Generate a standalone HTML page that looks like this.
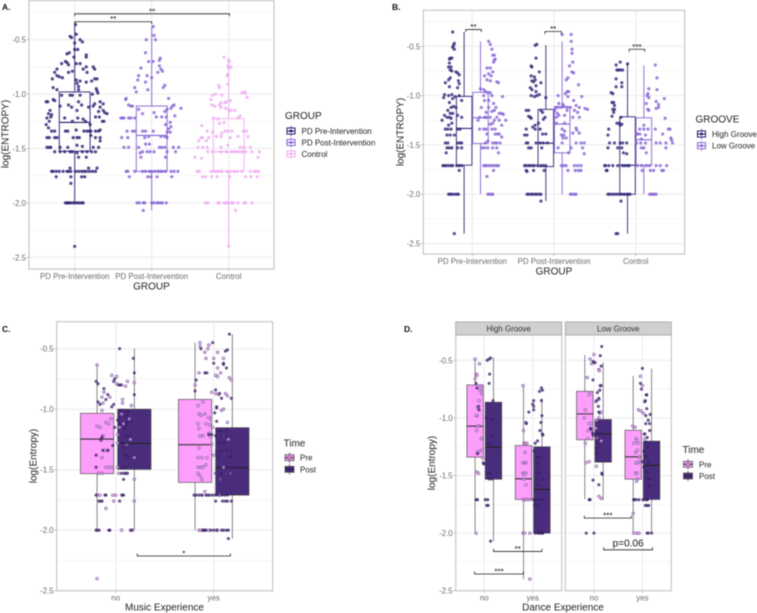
<!DOCTYPE html>
<html lang="en">
<head>
<meta charset="utf-8">
<title>Entropy box plots</title>
<style>
html,body{margin:0;padding:0;background:#fff;}
svg{display:block;font-family:"Liberation Sans",sans-serif;filter:blur(.45px);}
.tick{font-size:7.9px;fill:#6a6a6a;}
.title{font-size:10px;fill:#222;}
.leg{font-size:8px;fill:#222;}
.pl{font-size:8.5px;font-weight:bold;fill:#111;}
.sig{font-size:8px;fill:#111;}
</style>
</head>
<body>
<svg id="fig" xmlns="http://www.w3.org/2000/svg" width="757" height="613" viewBox="0 0 757 613">
<rect width="757" height="613" fill="#fff"/>
<g id="panels"></g>

<text class="pl" x="2" y="10">A.</text>
<text class="pl" x="392" y="10">B.</text>
<text class="pl" x="2" y="332">C.</text>
<text class="pl" x="404" y="332">D.</text>

<text class="title" x="151.5" y="289.5" text-anchor="middle">GROUP</text>
<text class="title" transform="translate(8.5,134) rotate(-90)" text-anchor="middle">log(ENTROPY)</text>
<text class="title" x="554" y="274.5" text-anchor="middle">GROUP</text>
<text class="title" transform="translate(403.5,132) rotate(-90)" text-anchor="middle">log(ENTROPY)</text>
<text class="title" x="164.5" y="610.5" text-anchor="middle">Music Experience</text>
<text class="title" transform="translate(36.5,456) rotate(-90)" text-anchor="middle">log(Entropy)</text>
<text class="title" x="563" y="610.5" text-anchor="middle">Dance Experience</text>
<text class="title" transform="translate(435,463) rotate(-90)" text-anchor="middle">log(Entropy)</text>

<g>
<text class="title" x="285" y="119">GROUP</text>
<g><line x1="291" x2="291" y1="126" y2="136" stroke="#241b70" stroke-width=".8"/><rect x="287" y="128" width="8" height="6" fill="#fff" stroke="#241b70"/><line x1="287" x2="295" y1="131" y2="131" stroke="#241b70"/><circle cx="291" cy="131" r="1.5" fill="#241b70"/><text class="leg" x="301.5" y="134">PD Pre-Intervention</text></g>
<g><line x1="291" x2="291" y1="137.5" y2="147.5" stroke="#8561d4" stroke-width=".8"/><rect x="287" y="139.5" width="8" height="6" fill="#fff" stroke="#8561d4"/><line x1="287" x2="295" y1="142.5" y2="142.5" stroke="#8561d4"/><circle cx="291" cy="142.5" r="1.5" fill="#8561d4"/><text class="leg" x="301.5" y="145.5">PD Post-Intervention</text></g>
<g><line x1="291" x2="291" y1="149" y2="159" stroke="#eeaaf2" stroke-width=".8"/><rect x="287" y="151" width="8" height="6" fill="#fff" stroke="#eeaaf2"/><line x1="287" x2="295" y1="154" y2="154" stroke="#eeaaf2"/><circle cx="291" cy="154" r="1.5" fill="#eeaaf2"/><text class="leg" x="301.5" y="157">Control</text></g>
</g>

<g>
<text class="title" x="695.5" y="122.5">GROOVE</text>
<g><line x1="701.5" x2="701.5" y1="129" y2="139" stroke="#241b70" stroke-width=".8"/><rect x="697.5" y="131" width="8" height="6" fill="#fff" stroke="#241b70"/><line x1="697.5" x2="705.5" y1="134" y2="134" stroke="#241b70"/><circle cx="701.5" cy="134" r="1.5" fill="#241b70"/><text class="leg" x="712" y="137">High Groove</text></g>
<g><line x1="701.5" x2="701.5" y1="140.7" y2="150.7" stroke="#8561d4" stroke-width=".8"/><rect x="697.5" y="142.7" width="8" height="6" fill="#fff" stroke="#8561d4"/><line x1="697.5" x2="705.5" y1="145.7" y2="145.7" stroke="#8561d4"/><circle cx="701.5" cy="145.7" r="1.5" fill="#8561d4"/><text class="leg" x="712" y="148.7">Low Groove</text></g>
</g>

<g>
<text class="title" x="283.5" y="446.5">Time</text>
<g><line x1="289.5" x2="289.5" y1="452.5" y2="463" stroke="#444" stroke-width=".7"/><rect x="285" y="454.7" width="9" height="6" fill="#fd9dfc" stroke="#444" stroke-width=".7"/><line x1="285" x2="294" y1="457.7" y2="457.7" stroke="#333"/><circle cx="289.5" cy="457.7" r="1.5" fill="#fcc" stroke="#4a2c7c" stroke-width=".6"/><text class="leg" x="300" y="460.7">Pre</text></g>
<g><line x1="289.5" x2="289.5" y1="464" y2="474.5" stroke="#444" stroke-width=".7"/><rect x="285" y="466.3" width="9" height="6" fill="#4a2c7c" stroke="#444" stroke-width=".7"/><line x1="285" x2="294" y1="469.3" y2="469.3" stroke="#222"/><circle cx="289.5" cy="469.3" r="1.5" fill="#3a2268"/><text class="leg" x="300" y="472.3">Post</text></g>
</g>

<g>
<text class="title" x="682.5" y="453">Time</text>
<g><line x1="688" x2="688" y1="459" y2="469.5" stroke="#444" stroke-width=".7"/><rect x="683.5" y="461.3" width="9" height="6" fill="#fd9dfc" stroke="#444" stroke-width=".7"/><line x1="683.5" x2="692.5" y1="464.3" y2="464.3" stroke="#333"/><circle cx="688" cy="464.3" r="1.5" fill="#fcc" stroke="#4a2c7c" stroke-width=".6"/><text class="leg" x="699" y="467.3">Pre</text></g>
<g><line x1="688" x2="688" y1="470.7" y2="481.2" stroke="#444" stroke-width=".7"/><rect x="683.5" y="473" width="9" height="6" fill="#4a2c7c" stroke="#444" stroke-width=".7"/><line x1="683.5" x2="692.5" y1="476" y2="476" stroke="#222"/><circle cx="688" cy="476" r="1.5" fill="#3a2268"/><text class="leg" x="699" y="479">Post</text></g>
</g>
</svg>

<script>
/* ---------- shared tick values ---------- */
const yMajorTicks = [-0.5,-1,-1.5,-2,-2.5];
const yMinorTicks = [-0.25,-0.75,-1.25,-1.75,-2.25];
const yTickLabels = ["-0.5","-1.0","-1.5","-2.0","-2.5"];
const groupCategories = ["PD Pre-Intervention","PD Post-Intervention","Control"];
const yesNoCategories = ["no","yes"];

/* ---------- box stats: [upper whisker, q3, median, q1, lower whisker] ---------- */
const aPreBox = [-.36,-.98,-1.26,-1.525,-2.0];
const aPostBox = [-.375,-1.11,-1.38,-1.71,-2.07];
const aControlBox = [-.66,-1.225,-1.53,-1.71,-2.4];
const bPreHighBox = [-.355,-1.008,-1.333,-1.706,-2.4];
const bPreLowBox = [-.45,-.967,-1.225,-1.485,-2.0];
const bPostHighBox = [-.487,-1.14,-1.482,-1.72,-2.07];
const bPostLowBox = [-.453,-1.113,-1.289,-1.58,-2.0];
const bCtrlHighBox = [-.66,-1.215,-1.706,-2.0,-2.4];
const bCtrlLowBox = [-.693,-1.225,-1.448,-1.706,-2.0];
const cNoPreBox = [-.635,-1.034,-1.247,-1.533,-2.0];
const cNoPostBox = [-.5,-1.0,-1.282,-1.497,-2.0];
const cYesPreBox = [-.45,-.919,-1.293,-1.605,-2.0];
const cYesPostBox = [-.38,-1.153,-1.483,-1.71,-2.07];
const dHighNoPreBox = [-.49,-.714,-1.072,-1.341,-2.0];
const dHighNoPostBox = [-.474,-.864,-1.254,-1.532,-2.07];
const dHighYesPreBox = [-.72,-1.24,-1.529,-1.708,-2.4];
const dHighYesPostBox = [-.83,-1.251,-1.621,-2.0,-2.0];
const dLowNoPreBox = [-.454,-.769,-.965,-1.19,-1.705];
const dLowNoPostBox = [-.517,-1.014,-1.139,-1.384,-1.71];
const dLowYesPreBox = [-.636,-1.107,-1.338,-1.532,-2.0];
const dLowYesPostBox = [-.572,-1.202,-1.413,-1.708,-2.0];

/* ---------- points: [horizontal jitter in category units, value] ---------- */
const aPrePoints = [[.01,-.36],[.02,-.45],[-.06,-.47],[-.04,-.48],[.07,-.5],[.1,-.52],[0,-.53],[0,-.59],[.04,-.59],[-.07,-.62],[-.1,-.63],[.15,-.64],[.15,-.66],[-.01,-.66],[-.12,-.7],[-.17,-.72],[-.1,-.71],[-.08,-.73],[.02,-.72],[.07,-.72],[.24,-.75],[.26,-.77],[.15,-.75],[.11,-.77],[-.23,-.77],[-.26,-.8],[-.08,-.8],[-.03,-.79],[.16,-.8],[-.23,-.83],[-.2,-.84],[-.16,-.85],[-.29,-.86],[.26,-.86],[.29,-.86],[.02,-.87],[.07,-.88],[.22,-.88],[.15,-.89],[.03,-.9],[.05,-.93],[-.28,-.94],[.28,-.95],[-.23,-.96],[.05,-.96],[.29,-.97],[.3,-.99],[.23,-1],[-.17,-1.01],[-.06,-1.01],[-.03,-1.01],[.07,-1.01],[-.28,-1.05],[-.26,-1.06],[-.35,-1.07],[-.37,-1.07],[.05,-1.07],[.33,-1.07],[.26,-1.09],[.37,-1.09],[-.19,-1.11],[-.08,-1.1],[-.04,-1.12],[.09,-1.1],[.18,-1.12],[.24,-1.11],[.33,-1.12],[-.32,-1.15],[.03,-1.15],[.37,-1.15],[-.34,-1.18],[-.3,-1.19],[.42,-1.18],[.31,-1.16],[.39,-1.17],[-.36,-1.22],[-.31,-1.21],[-.13,-1.22],[.04,-1.22],[.11,-1.23],[.27,-1.21],[.32,-1.21],[.38,-1.25],[-.33,-1.25],[-.37,-1.28],[-.34,-1.31],[-.03,-1.25],[.14,-1.25],[.2,-1.28],[.36,-1.25],[-.3,-1.34],[-.26,-1.34],[-.12,-1.34],[-.09,-1.34],[.02,-1.33],[.12,-1.34],[.16,-1.34],[.19,-1.34],[.21,-1.34],[.27,-1.34],[.31,-1.34],[.33,-1.33],[.21,-1.38],[-.36,-1.4],[-.33,-1.4],[-.26,-1.4],[-.23,-1.4],[-.02,-1.4],[.03,-1.4],[.06,-1.4],[.27,-1.4],[.33,-1.4],[.33,-1.43],[-.36,-1.49],[-.33,-1.49],[-.31,-1.49],[-.19,-1.49],[-.09,-1.49],[.03,-1.47],[.1,-1.48],[.24,-1.49],[.31,-1.49],[-.26,-1.53],[-.19,-1.53],[-.13,-1.53],[-.06,-1.53],[-.03,-1.53],[.03,-1.54],[.1,-1.53],[.16,-1.53],[.22,-1.53],[.27,-1.53],[.05,-1.58],[.15,-1.58],[-.06,-1.68],[.18,-1.68],[.29,-1.68],[-.3,-1.71],[-.28,-1.71],[-.24,-1.71],[-.2,-1.71],[-.15,-1.71],[-.1,-1.71],[-.08,-1.71],[-.05,-1.71],[.01,-1.71],[.05,-1.71],[.09,-1.71],[.12,-1.71],[.15,-1.71],[.19,-1.71],[.23,-1.71],[.27,-1.71],[-.24,-1.76],[-.05,-1.76],[.09,-1.76],[.13,-1.76],[-.05,-1.82],[-.12,-2],[-.1,-2],[-.08,-2],[-.06,-2],[-.03,-2],[0,-2],[.03,-2],[.06,-2],[.09,-2],[.11,-2],[0,-2.4]];
const aPostPoints = [[.02,-.38],[-.07,-.5],[.03,-.46],[.05,-.5],[-.08,-.62],[-.04,-.7],[.02,-.7],[.11,-.67],[.1,-.69],[.1,-.74],[-.14,-.76],[.12,-.77],[.14,-.79],[.08,-.8],[-.17,-.83],[-.06,-.83],[.0,-.85],[-.18,-.87],[-.08,-.89],[-.22,-.94],[-.2,-.98],[.17,-.92],[.15,-.94],[-.05,-.96],[-.33,-1.04],[.22,-1.04],[-.34,-1.05],[-.3,-1.1],[-.27,-1.11],[-.25,-1.11],[-.17,-1.14],[.2,-1.14],[.27,-1.11],[.29,-1.1],[.25,-1.13],[.38,-1.13],[-.12,-1.18],[.03,-1.17],[.17,-1.16],[-.4,-1.22],[-.38,-1.22],[-.36,-1.22],[-.3,-1.22],[-.27,-1.22],[-.22,-1.22],[.06,-1.21],[.13,-1.21],[.19,-1.21],[.3,-1.2],[.24,-1.26],[.18,-1.28],[.25,-1.3],[.22,-1.32],[-.32,-1.34],[-.25,-1.34],[-.22,-1.34],[-.12,-1.34],[-.08,-1.34],[.02,-1.34],[.2,-1.35],[.24,-1.35],[-.39,-1.4],[-.31,-1.4],[-.09,-1.4],[-.04,-1.39],[.12,-1.39],[.17,-1.39],[.2,-1.4],[-.36,-1.49],[-.3,-1.49],[-.17,-1.49],[-.08,-1.46],[-.03,-1.46],[.1,-1.49],[.13,-1.49],[.17,-1.49],[.28,-1.49],[.35,-1.49],[-.15,-1.54],[-.12,-1.53],[-.06,-1.53],[-.02,-1.53],[.03,-1.53],[.2,-1.53],[.31,-1.53],[-.14,-1.58],[.18,-1.58],[-.33,-1.71],[-.31,-1.71],[-.22,-1.71],[-.12,-1.71],[-.08,-1.71],[-.03,-1.71],[0,-1.71],[.04,-1.71],[.08,-1.71],[.11,-1.71],[.14,-1.71],[.18,-1.71],[.25,-1.71],[.29,-1.71],[.34,-1.71],[-.29,-1.76],[-.05,-1.76],[-.01,-1.76],[.07,-1.76],[.26,-1.76],[-.19,-2],[-.16,-2],[-.11,-2],[-.09,-2],[0,-2],[.03,-2],[.07,-2],[.09,-2],[.12,-2],[.14,-2],[.19,-2],[-.11,-2.07]];
const aControlPoints = [[-.06,-.66],[.0,-.69],[.01,-.7],[-.01,-.74],[.03,-.75],[.0,-.76],[-.02,-.83],[-.01,-.82],[-.13,-.92],[-.12,-.94],[-.01,-.91],[.2,-.98],[.17,-.99],[.22,-.99],[-.17,-1],[-.21,-1.01],[-.09,-1.01],[.24,-1.03],[-.23,-1.05],[-.22,-1.1],[-.1,-1.08],[-.05,-1.08],[-.03,-1.07],[.02,-1.06],[-.18,-1.11],[-.12,-1.1],[-.1,-1.12],[-.04,-1.13],[0,-1.15],[.03,-1.15],[.08,-1.15],[-.2,-1.22],[-.14,-1.23],[.12,-1.22],[.15,-1.2],[-.35,-1.29],[-.12,-1.27],[-.06,-1.26],[-.28,-1.34],[-.21,-1.35],[-.09,-1.36],[-.05,-1.34],[-.01,-1.34],[.04,-1.34],[.19,-1.34],[.23,-1.34],[.25,-1.39],[-.36,-1.4],[-.34,-1.4],[-.26,-1.4],[-.16,-1.39],[-.1,-1.39],[.12,-1.39],[.02,-1.4],[-.39,-1.43],[-.29,-1.43],[-.4,-1.49],[-.34,-1.49],[-.28,-1.49],[-.1,-1.49],[-.01,-1.47],[.15,-1.49],[.2,-1.49],[.28,-1.49],[-.27,-1.53],[-.21,-1.53],[-.1,-1.53],[-.03,-1.53],[.04,-1.53],[.08,-1.53],[.12,-1.53],[.17,-1.53],[.22,-1.53],[.3,-1.53],[.4,-1.53],[-.44,-1.58],[-.35,-1.59],[.38,-1.58],[-.41,-1.71],[-.38,-1.71],[-.23,-1.71],[-.19,-1.71],[-.16,-1.71],[-.13,-1.71],[-.09,-1.71],[-.02,-1.71],[.02,-1.71],[.07,-1.71],[.11,-1.71],[.17,-1.71],[.28,-1.71],[.33,-1.71],[.36,-1.71],[.39,-1.71],[-.34,-1.76],[-.3,-1.76],[-.22,-1.76],[-.15,-1.76],[.01,-1.76],[.22,-1.76],[.29,-1.76],[.37,-1.76],[-.3,-2],[-.27,-2],[-.14,-2],[-.12,-2],[-.06,-2],[-.03,-2],[0,-2],[.04,-2],[.06,-2],[.12,-2],[.2,-2],[.22,-2],[.3,-2],[.09,-2.07],[.0,-2.4]];

const bPreHighPoints = [[-.24,-.355],[-.22,-.47],[-.23,-.49],[-.24,-.51],[-.22,-.53],[-.27,-.62],[-.28,-.63],[-.25,-.62],[-.28,-.67],[-.29,-.71],[-.26,-.71],[-.27,-.74],[-.25,-.75],[-.2,-.76],[-.18,-.77],[-.16,-.79],[-.29,-.84],[-.33,-.87],[-.27,-.82],[-.17,-.85],[-.16,-.88],[-.18,-.92],[-.28,-.91],[-.34,-.99],[-.29,-1],[-.25,-.99],[-.21,-1.01],[-.16,-1],[-.35,-1.02],[-.24,-1.03],[-.13,-1.05],[-.28,-1.07],[-.23,-1.11],[-.2,-1.12],[-.26,-1.12],[-.3,-1.15],[-.27,-1.18],[-.24,-1.18],[-.34,-1.2],[-.31,-1.22],[-.28,-1.22],[-.26,-1.23],[-.18,-1.2],[-.13,-1.22],[-.37,-1.25],[-.29,-1.3],[-.25,-1.28],[-.33,-1.34],[-.3,-1.34],[-.26,-1.34],[-.18,-1.34],[-.15,-1.34],[-.27,-1.4],[-.31,-1.4],[-.22,-1.4],[-.33,-1.48],[-.3,-1.48],[-.18,-1.48],[-.15,-1.48],[-.13,-1.48],[-.31,-1.53],[-.28,-1.53],[-.25,-1.53],[-.18,-1.53],[-.13,-1.53],[-.32,-1.58],[-.36,-1.71],[-.34,-1.71],[-.32,-1.71],[-.29,-1.71],[-.26,-1.71],[-.24,-1.71],[-.19,-1.71],[-.16,-1.71],[-.13,-1.71],[-.16,-1.76],[-.29,-2],[-.27,-2],[-.25,-2],[-.22,-2],[-.19,-2],[-.17,-2],[-.22,-2.4]];
const bPreLowPoints = [[.2,-.45],[.22,-.48],[.24,-.53],[.25,-.59],[.27,-.59],[.27,-.64],[.28,-.63],[.26,-.66],[.18,-.72],[.22,-.72],[.25,-.76],[.15,-.8],[.2,-.78],[.23,-.8],[.18,-.84],[.22,-.85],[.3,-.86],[.32,-.87],[.1,-.93],[.14,-.94],[.16,-.96],[.19,-.97],[.22,-.97],[.14,-1.0],[.24,-1.0],[.37,-1.01],[.15,-1.05],[.2,-1.05],[.26,-1.08],[.11,-1.12],[.2,-1.12],[.29,-1.12],[.27,-1.15],[.17,-1.17],[.24,-1.16],[.33,-1.18],[.36,-1.18],[.38,-1.19],[.09,-1.22],[.15,-1.22],[.17,-1.22],[.22,-1.22],[.3,-1.22],[.07,-1.25],[.27,-1.25],[.33,-1.25],[.41,-1.25],[.25,-1.28],[.22,-1.29],[.36,-1.3],[.14,-1.34],[.17,-1.34],[.24,-1.34],[.28,-1.34],[.09,-1.34],[.31,-1.39],[.28,-1.39],[.33,-1.39],[.18,-1.39],[.36,-1.42],[.16,-1.48],[.19,-1.46],[.25,-1.48],[.28,-1.48],[.3,-1.48],[.34,-1.48],[.12,-1.53],[.15,-1.53],[.19,-1.53],[.25,-1.53],[.3,-1.53],[.32,-1.58],[.14,-1.71],[.16,-1.71],[.18,-1.71],[.21,-1.71],[.24,-1.71],[.27,-1.71],[.3,-1.71],[.32,-1.71],[.26,-1.76],[.18,-1.82],[.19,-2],[.21,-2],[.24,-2],[.25,-2]];
const bPostHighPoints = [[-.23,-.49],[-.21,-.48],[-.22,-.62],[-.28,-.7],[-.27,-.71],[-.28,-.8],[-.18,-.76],[-.24,-.81],[-.27,-.85],[-.25,-.86],[-.23,-.84],[-.16,-.87],[-.22,-.9],[-.29,-.92],[-.27,-.94],[-.22,-.96],[-.18,-.99],[-.28,-1],[-.24,-1.01],[-.21,-1],[-.1,-1.02],[-.34,-1.15],[-.31,-1.15],[-.16,-1.15],[-.14,-1.17],[-.31,-1.21],[-.29,-1.22],[-.28,-1.23],[-.13,-1.24],[-.11,-1.22],[-.23,-1.3],[-.19,-1.28],[-.26,-1.32],[-.34,-1.34],[-.23,-1.34],[-.17,-1.34],[-.36,-1.4],[-.33,-1.4],[-.1,-1.39],[-.14,-1.39],[-.34,-1.48],[-.32,-1.48],[-.22,-1.48],[-.17,-1.48],[-.13,-1.48],[-.08,-1.48],[-.31,-1.53],[-.28,-1.53],[-.15,-1.53],[-.36,-1.71],[-.34,-1.71],[-.31,-1.71],[-.29,-1.71],[-.26,-1.71],[-.24,-1.71],[-.2,-1.71],[-.16,-1.71],[-.13,-1.71],[-.1,-1.71],[-.34,-1.76],[-.33,-1.77],[-.25,-1.76],[-.12,-1.76],[-.33,-2],[-.31,-2],[-.28,-2],[-.26,-2],[-.23,-2],[-.21,-2],[-.18,-2],[-.16,-2],[-.16,-2.07]];
const bPostLowPoints = [[.1,-.38],[.21,-.38],[.21,-.45],[.22,-.53],[.22,-.57],[.23,-.66],[.19,-.7],[.22,-.76],[.24,-.77],[.17,-.82],[.15,-.84],[.3,-.89],[.16,-.96],[.14,-.98],[.18,-.96],[.05,-1],[.17,-1.01],[.34,-1.01],[.24,-1.05],[.06,-1.08],[.11,-1.09],[.27,-1.1],[.02,-1.12],[.05,-1.12],[.09,-1.12],[.12,-1.11],[.16,-1.12],[.2,-1.12],[.31,-1.12],[.38,-1.13],[.41,-1.14],[.01,-1.15],[.04,-1.18],[.16,-1.15],[.25,-1.15],[.03,-1.22],[.06,-1.2],[.13,-1.2],[.23,-1.22],[.31,-1.22],[.29,-1.17],[.03,-1.28],[.13,-1.28],[.27,-1.33],[.28,-1.35],[.1,-1.34],[.13,-1.36],[.23,-1.38],[.31,-1.38],[.09,-1.4],[.12,-1.4],[.11,-1.43],[.15,-1.43],[.1,-1.48],[.27,-1.48],[.33,-1.48],[.37,-1.48],[.05,-1.53],[.21,-1.53],[.35,-1.53],[.18,-1.58],[.37,-1.59],[.09,-1.71],[.12,-1.71],[.15,-1.71],[.25,-1.71],[.29,-1.71],[.33,-1.71],[.17,-1.76],[.26,-1.76],[.3,-1.76],[.33,-1.76],[.2,-2],[.22,-2],[.25,-2],[.27,-2]];
const bCtrlHighPoints = [[-.1,-.68],[-.19,-.66],[-.24,-.69],[-.23,-.74],[-.21,-.74],[-.19,-.74],[-.16,-.74],[-.24,-.83],[-.17,-.87],[-.17,-.91],[-.24,-.91],[-.28,-.98],[-.3,-.97],[-.27,-1.07],[-.29,-1.07],[-.26,-1.1],[-.28,-1.14],[-.26,-1.14],[-.29,-1.21],[-.27,-1.17],[-.18,-1.22],[-.23,-1.28],[-.2,-1.28],[-.19,-1.3],[-.17,-1.29],[-.33,-1.34],[-.34,-1.4],[-.32,-1.48],[-.26,-1.48],[-.19,-1.48],[-.16,-1.48],[-.11,-1.48],[-.34,-1.53],[-.22,-1.53],[-.17,-1.53],[-.11,-1.59],[-.15,-1.58],[-.38,-1.71],[-.37,-1.71],[-.33,-1.71],[-.28,-1.71],[-.22,-1.71],[-.16,-1.71],[-.13,-1.71],[-.1,-1.71],[-.08,-1.71],[-.36,-1.76],[-.35,-1.76],[-.34,-2],[-.32,-2],[-.29,-2],[-.26,-2],[-.23,-2],[-.2,-2],[-.17,-2],[-.14,-2],[-.11,-2],[-.09,-2],[-.07,-2],[-.18,-2.07],[-.24,-2.4],[-.22,-2.4]];
const bCtrlLowPoints = [[.24,-.69],[.26,-.82],[.16,-.93],[.26,-.94],[.14,-1],[.15,-.98],[.16,-1.02],[.35,-1.03],[.25,-1.06],[.28,-1.09],[.13,-1.08],[.16,-1.15],[.15,-1.14],[.25,-1.13],[.28,-1.12],[.36,-1.23],[.1,-1.3],[.01,-1.39],[.05,-1.34],[.1,-1.34],[.15,-1.34],[.24,-1.34],[.4,-1.34],[.42,-1.34],[.02,-1.39],[.05,-1.39],[.12,-1.4],[.33,-1.39],[.07,-1.44],[.43,-1.43],[.44,-1.45],[.01,-1.48],[.06,-1.48],[.12,-1.48],[.25,-1.48],[.3,-1.48],[.37,-1.48],[.45,-1.48],[.07,-1.53],[.1,-1.53],[.37,-1.53],[.13,-1.58],[.02,-1.71],[.07,-1.71],[.13,-1.71],[.17,-1.71],[.25,-1.71],[.3,-1.71],[.38,-1.71],[.08,-1.76],[.18,-1.76],[.22,-1.76],[.32,-1.76],[.34,-1.76],[.17,-2],[.19,-2],[.21,-2],[.23,-2],[.25,-2]];

const cNoPrePoints = [[-.19,-.635],[-.04,-.72],[.01,-.73],[.12,-.77],[.01,-.79],[.06,-.8],[.1,-.81],[.19,-.78],[-.12,-.86],[-.14,-.9],[-.06,-.9],[.07,-.92],[.07,-.95],[-.13,-.95],[.16,-.97],[-.14,-1.01],[-.05,-1.08],[-.1,-1.11],[-.07,-1.12],[-.19,-1.14],[-.16,-1.15],[-.13,-1.22],[-.15,-1.26],[.02,-1.21],[.06,-1.04],[.08,-1.12],[.04,-1.15],[.14,-1.08],[.15,-1.25],[.02,-1.28],[.11,-1.29],[-.11,-1.34],[-.08,-1.34],[-.14,-1.4],[.19,-1.4],[-.1,-1.48],[-.07,-1.48],[-.04,-1.48],[.02,-1.48],[-.18,-1.53],[-.14,-1.53],[.03,-1.53],[.1,-1.53],[.19,-1.58],[-.19,-1.71],[-.16,-1.71],[-.03,-1.71],[.0,-1.71],[.06,-1.71],[-.15,-1.76],[-.02,-1.76],[.19,-1.76],[-.1,-1.82],[-.19,-2],[.06,-2],[.15,-2],[.17,-2],[-.19,-2.4]];
const cNoPostPoints = [[.04,-.5],[.18,-.58],[.19,-.7],[-.2,-.77],[-.18,-.79],[-.01,-.75],[-.02,-.77],[.05,-.8],[.03,-.8],[-.12,-.83],[-.08,-.88],[-.1,-.92],[.19,-.88],[-.18,-.94],[-.16,-.96],[-.02,-.96],[-.04,-.98],[.05,-1.01],[.08,-1.01],[.12,-1.01],[.14,-1.02],[.02,-1.09],[.12,-1.05],[.16,-1.1],[.04,-1.12],[.11,-1.11],[-.01,-1.15],[.09,-1.16],[.11,-1.13],[-.14,-1.23],[-.15,-1.25],[.06,-1.27],[.1,-1.22],[.14,-1.22],[-.03,-1.3],[.09,-1.32],[-.13,-1.34],[-.08,-1.34],[.11,-1.28],[-.2,-1.38],[.1,-1.38],[.12,-1.39],[-.2,-1.48],[.07,-1.48],[.1,-1.48],[.06,-1.53],[.09,-1.53],[.12,-1.53],[.08,-1.58],[-.2,-1.71],[-.1,-1.71],[-.11,-1.71],[.07,-1.71],[.08,-1.71],[-.14,-1.76],[-.17,-1.76],[.04,-1.76],[-.2,-2],[-.17,-2],[-.07,-2],[-.06,-2],[.16,-2]];
const cYesPrePoints = [[-.14,-.45],[-.14,-.48],[-.09,-.53],[-.05,-.47],[-.06,-.5],[0,-.58],[-.08,-.58],[.04,-.53],[.04,-.66],[.1,-.58],[.07,-.7],[-.15,-.7],[.02,-.72],[.04,-.73],[.16,-.74],[.18,-.76],[-.19,-.8],[.02,-.87],[-.02,-.86],[.12,-.87],[.05,-.88],[.14,-.89],[-.11,-.94],[-.16,-.97],[.1,-1.0],[-.15,-1.04],[-.13,-1.05],[.08,-1.01],[-.05,-1.07],[-.03,-1.08],[-.09,-1.04],[-.04,-1.13],[-.08,-1.12],[-.16,-1.12],[-.01,-1.15],[.14,-1.11],[-.15,-1.16],[-.14,-1.22],[-.11,-1.22],[-.05,-1.2],[-.03,-1.23],[-.02,-1.29],[-.15,-1.32],[.0,-1.38],[-.16,-1.4],[-.12,-1.4],[-.07,-1.4],[.1,-1.22],[.15,-1.25],[-.16,-1.48],[-.13,-1.48],[-.11,-1.48],[-.08,-1.46],[.1,-1.48],[.13,-1.53],[.02,-1.53],[.18,-1.53],[-.16,-1.53],[-.14,-1.55],[-.12,-1.58],[.06,-1.58],[-.09,-1.68],[-.12,-1.71],[-.06,-1.71],[.06,-1.71],[-.15,-2],[-.13,-2],[-.09,-2],[-.05,-2],[.04,-2]];
const cYesPostPoints = [[.16,-.38],[-.13,-.5],[-.01,-.45],[.12,-.52],[.14,-.51],[.0,-.62],[.1,-.62],[.1,-.63],[.13,-.66],[-.09,-.7],[-.07,-.7],[-.18,-.76],[-.19,-.85],[.02,-.84],[.06,-.87],[.08,-.91],[.18,-.91],[.03,-.98],[.03,-.99],[.01,-1.03],[.03,-1.1],[.13,-1.17],[.05,-1.18],[.08,-1.18],[-.02,-1.21],[.02,-1.22],[.09,-1.22],[.12,-1.22],[-.05,-1.21],[.06,-1.28],[.11,-1.28],[.03,-1.35],[.08,-1.34],[.13,-1.34],[.18,-1.34],[.05,-1.39],[.17,-1.39],[.18,-1.39],[.14,-1.48],[.19,-1.48],[.03,-1.53],[.08,-1.53],[.13,-1.53],[.19,-1.53],[.05,-1.58],[-.2,-1.71],[-.18,-1.71],[-.15,-1.71],[-.12,-1.71],[-.08,-1.71],[-.05,-1.71],[-.02,-1.71],[.01,-1.71],[.04,-1.71],[.08,-1.71],[.11,-1.71],[.14,-1.71],[.02,-1.76],[.09,-1.76],[.12,-1.76],[.14,-1.76],[.18,-1.76],[-.11,-2],[-.1,-2],[-.08,-2],[-.03,-2],[0,-2],[.03,-2],[.08,-2],[.1,-2],[.13,-2],[.15,-2],[.15,-2.07]];

const dHighNoPrePoints = [[-.19,-.49],[-.1,-.53],[-.17,-.62],[-.15,-.63],[-.19,-.66],[-.07,-.72],[-.05,-.75],[-.09,-.76],[-.05,-.79],[-.11,-.85],[-.14,-.91],[-.15,-.98],[-.17,-.98],[-.11,-1.07],[-.13,-1.07],[-.16,-1.11],[-.06,-1.18],[-.04,-1.28],[-.14,-1.3],[-.11,-1.29],[-.03,-1.35],[-.16,-1.47],[-.12,-1.48],[-.17,-2.0]];
const dHighNoPostPoints = [[.06,-.5],[.1,-.49],[.13,-.48],[.11,-.62],[.1,-.7],[.18,-.85],[-.17,-.7],[-.15,-.74],[-.11,-.93],[-.12,-.9],[.04,-1.0],[.16,-1.01],[.15,-1.15],[.08,-1.22],[.12,-1.23],[-.14,-1.31],[-.02,-1.39],[-.01,-1.4],[.08,-1.48],[.12,-1.48],[.1,-1.53],[.16,-1.53],[-.17,-1.71],[-.14,-1.71],[.02,-1.71],[.07,-1.71],[.05,-1.76],[.08,-1.76],[.13,-2.07]];
const dHighYesPrePoints = [[-.2,-.72],[-.19,-1.11],[-.18,-1.22],[-.15,-1.22],[-.12,-1.22],[-.16,-1.3],[-.2,-1.39],[-.16,-1.39],[-.14,-1.39],[-.2,-1.48],[-.18,-1.49],[-.14,-1.48],[-.18,-1.53],[-.14,-1.58],[-.2,-1.71],[-.16,-1.71],[-.13,-1.71],[-.06,-1.71],[-.2,-2],[-.17,-2],[-.06,-2],[-.06,-2.4]];
const dHighYesPostPoints = [[.18,-.74],[.2,-.76],[.14,-.77],[.02,-.85],[.18,-.85],[-.08,-.95],[.0,-.88],[.02,-.9],[.02,-.93],[.19,-.98],[.17,-1.04],[-.14,-1.04],[-.13,-1.05],[.15,-1.11],[.2,-1.14],[.21,-1.15],[.05,-1.22],[.1,-1.2],[.03,-1.29],[.08,-1.34],[.1,-1.34],[.12,-1.34],[.1,-1.39],[.11,-1.43],[.08,-1.48],[.15,-1.48],[.1,-1.53],[.2,-1.53],[.1,-1.58],[.02,-1.71],[.05,-1.71],[.1,-1.71],[.14,-1.71],[.2,-1.71],[.04,-1.76],[.1,-1.76],[.05,-2],[.1,-2],[.13,-2],[.15,-2],[.18,-2],[.2,-2],[.21,-2]];
const dLowNoPrePoints = [[0,-.45],[-.08,-.49],[.02,-.52],[-.05,-.53],[.1,-.58],[.11,-.59],[.13,-.72],[.14,-.72],[-.14,-.65],[-.08,-.78],[-.1,-.8],[.1,-.84],[.04,-.86],[.12,-.96],[.14,-.95],[-.18,-.93],[-.2,-1.0],[.1,-1.0],[.05,-1.02],[-.1,-1.05],[-.05,-1.05],[.04,-1.09],[-.12,-1.11],[-.18,-1.22],[-.13,-1.18],[-.17,-1.39],[-.1,-1.38],[.07,-1.18],[.15,-1.2],[.05,-1.42],[.1,-1.68],[.15,-1.7]];
const dLowNoPostPoints = [[.16,-.38],[.13,-.46],[-.02,-.51],[.01,-.52],[.15,-.55],[-.02,-.67],[.14,-.72],[.12,-.76],[.07,-.78],[.1,-.83],[.05,-.85],[.09,-.9],[.1,-.95],[-.07,-1.09],[-.06,-1.1],[-.03,-1.13],[-.02,-1.15],[.03,-1.14],[.07,-1.13],[.08,-1.22],[.06,-1.26],[.05,-1.3],[.08,-1.19],[.16,-1.48],[.17,-1.49],[-.02,-1.54],[.1,-1.58],[-.08,-1.71],[-.1,-1.71],[-.16,-2],[0,-2]];
const dLowYesPrePoints = [[-.18,-1.22],[-.2,-1.07],[-.15,-1.08],[-.13,-1.18],[-.11,-1.2],[-.09,-1.22],[-.1,-1.28],[-.14,-1.3],[-.13,-1.39],[-.09,-1.39],[-.05,-1.38],[-.14,-1.48],[-.11,-1.48],[-.1,-1.53],[-.12,-1.55],[-.06,-1.34],[-.08,-.93],[-.04,-.64],[.0,-.72],[-.03,-.94],[.02,-.96],[.05,-1.14],[.05,-1.18],[-.19,-1.83],[-.18,-2],[-.11,-2],[-.07,-2]];
const dLowYesPostPoints = [[.0,-.57],[-.04,-.7],[-.02,-.75],[.08,-.8],[.09,-.8],[.16,-.97],[.09,-.92],[.06,-.85],[.05,-.86],[.07,-.98],[.07,-1.05],[.12,-1.02],[.15,-1.05],[.15,-1.11],[.04,-1.14],[.1,-1.17],[.08,-1.21],[.1,-1.25],[.03,-1.29],[.06,-1.33],[.08,-1.34],[.0,-1.38],[.13,-1.39],[.03,-1.43],[.06,-1.46],[.1,-1.47],[.1,-1.53],[.15,-1.53],[.14,-1.59],[-.18,-1.71],[-.17,-1.71],[-.13,-1.71],[-.07,-1.71],[.01,-1.71],[.05,-1.71],[.1,-1.71],[.1,-1.71],[.06,-1.76],[.1,-1.76],[.13,-1.76],[.1,-2],[.12,-2],[.19,-2]];

/* ---------- significance brackets: [from category, to category, value, label] ---------- */
const aBrackets = [[1,3.01,-.262,"**"],[1,2,-.335,"**"]];
const bBrackets = [[.92,1.11,-.33,"**"],[1.89,2.09,-.35,"**"],[2.92,3.11,-.53,"***"]];
const cBrackets = [[1.22,2.17,-2.213,"*"]];
const dHighBrackets = [[.8,1.81,-2.355,"***"],[1.19,2.19,-2.159,"**"]];
const dLowBrackets = [[.8,1.77,-1.87,"***"],[1.2,2.21,-2.145,"p=0.06"]];

/* ---------- drawing ---------- */
const NS = "http://www.w3.org/2000/svg";
const root = document.getElementById("panels");

function mk(parent, tag, attrs, name, text) {
  const el = document.createElementNS(NS, tag);
  for (const k in attrs) el.setAttribute(k, attrs[k]);
  
  
  if (text !== undefined) el.textContent = text;
  parent.appendChild(el);
  return el;
}

function makeAxes(f) {
  return {
    x: c => f.cat1 + (c - 1) * f.step,
    y: v => f.yHalf + (-0.5 - v) * f.ppu
  };
}

function drawFrame(g, f, ax, cats, showY) {
  mk(g, "rect", {x:f.x0,y:f.y0,width:f.x1-f.x0,height:f.y1-f.y0,fill:"#fff"}, "plot-background");
  yMinorTicks.forEach(v => {
    if (ax.y(v) > f.y0 && ax.y(v) < f.y1)
      mk(g, "line", {x1:f.x0,x2:f.x1,y1:ax.y(v),y2:ax.y(v),stroke:"#f1f1f1","stroke-width":.6}, "minor-gridline");
  });
  yMajorTicks.forEach((v, i) => {
    const yy = ax.y(v);
    mk(g, "line", {x1:f.x0,x2:f.x1,y1:yy,y2:yy,stroke:"#ebebeb","stroke-width":1}, "major-gridline");
    if (showY) {
      mk(g, "line", {x1:f.x0-2,x2:f.x0,y1:yy,y2:yy,stroke:"#888","stroke-width":.6}, "y-tick");
      mk(g, "text", {x:f.x0-3,y:yy+3,"text-anchor":"end",class:"tick"}, "y-tick-label", yTickLabels[i]);
    }
  });
  cats.forEach((label, i) => {
    const xx = ax.x(i + 1);
    mk(g, "line", {x1:xx,x2:xx,y1:f.y0,y2:f.y1,stroke:"#ebebeb","stroke-width":1}, "vertical-gridline");
    mk(g, "line", {x1:xx,x2:xx,y1:f.y1,y2:f.y1+2,stroke:"#888","stroke-width":.6}, "x-tick");
    mk(g, "text", {x:xx,y:f.y1+10,"text-anchor":"middle",class:"tick"}, "x-tick-label", label);
  });
}

function drawBorder(g, f) {
  mk(g, "rect", {x:f.x0,y:f.y0,width:f.x1-f.x0,height:f.y1-f.y0,fill:"none",stroke:"#c2c2c2","stroke-width":1.1}, "plot-border");
}

function drawPoints(g, ax, pts, cat, st, name) {
  pts.forEach(p => {
    mk(g, "circle", {cx:ax.x(cat+p[0]),cy:ax.y(p[1]),r:st.r,fill:st.fill,"fill-opacity":st.op,stroke:st.stroke||"none","stroke-width":st.sw||0}, name);
  });
}

function drawBox(g, ax, s, center, hw, st, name) {
  const xc = ax.x(center), xa = ax.x(center-hw), xb = ax.x(center+hw);
  mk(g, "line", {x1:xc,x2:xc,y1:ax.y(s[0]),y2:ax.y(s[1]),stroke:st.whisker,"stroke-width":st.sw}, name+"-upper-whisker");
  mk(g, "line", {x1:xc,x2:xc,y1:ax.y(s[3]),y2:ax.y(s[4]),stroke:st.whisker,"stroke-width":st.sw}, name+"-lower-whisker");
  mk(g, "rect", {x:xa,y:ax.y(s[1]),width:xb-xa,height:ax.y(s[3])-ax.y(s[1]),fill:st.fill,stroke:st.line,"stroke-width":st.sw}, name+"-box");
  mk(g, "line", {x1:xa,x2:xb,y1:ax.y(s[2]),y2:ax.y(s[2]),stroke:st.median,"stroke-width":st.msw}, name+"-median");
}

function drawBrackets(g, ax, list, dir) {
  list.forEach(b => {
    const a = ax.x(b[0]), c = ax.x(b[1]), yy = ax.y(b[2]);
    mk(g, "path", {d:"M"+a+" "+(yy+dir*2.5)+"V"+yy+"H"+c+"V"+(yy+dir*2.5),fill:"none",stroke:"#222","stroke-width":.8}, "significance-bracket");
    const big = b[3].length > 3;
    mk(g, "text", {x:(a+c)/2,y:big?yy-3.5:yy+0.5,"text-anchor":"middle",class:"sig",style:big?"font-size:10px":""}, "significance-label", b[3]);
  });
}

/* Panel A */
(function(){
  const f = {x0:29,x1:274,y0:.5,y1:269,cat1:74.7,step:77,yHalf:39.7,ppu:108.8};
  const ax = makeAxes(f);
  const g = mk(root, "g", {}, "panel-a");
  drawFrame(g, f, ax, groupCategories, true);
  const c = [["#241b70",aPrePoints,aPreBox,"pd-pre"],["#8561d4",aPostPoints,aPostBox,"pd-post"],["#eeaaf2",aControlPoints,aControlBox,"control"]];
  c.forEach((s,i) => {
    drawPoints(g, ax, s[1], i+1, {r:1.6,fill:s[0],op:.8}, "point-"+s[3]);
    drawBox(g, ax, s[2], i+1, .2, {whisker:s[0],line:s[0],fill:"none",median:s[0],sw:.9,msw:1.1}, s[3]);
  });
  drawBrackets(g, ax, aBrackets, 1);
  drawBorder(g, f);
})();

/* Panel B */
(function(){
  const f = {x0:423.3,x1:684.7,y0:10.3,y1:254,cat1:472.3,step:81.7,yHalf:46.3,ppu:98.6};
  const ax = makeAxes(f);
  const g = mk(root, "g", {}, "panel-b");
  drawFrame(g, f, ax, groupCategories, true);
  const hi = "#2e2478", lo = "#8561d4";
  const c = [[1,-.1,hi,bPreHighPoints,bPreHighBox],[1,.1,lo,bPreLowPoints,bPreLowBox],[2,-.1,hi,bPostHighPoints,bPostHighBox],[2,.1,lo,bPostLowPoints,bPostLowBox],[3,-.1,hi,bCtrlHighPoints,bCtrlHighBox],[3,.1,lo,bCtrlLowPoints,bCtrlLowBox]];
  c.forEach(s => {
    drawPoints(g, ax, s[3], s[0], {r:1.6,fill:s[2],op:.8}, s[1]<0?"point-high-groove":"point-low-groove");
    drawBox(g, ax, s[4], s[0]+s[1], .095, {whisker:s[2],line:s[2],fill:"none",median:s[2],sw:.9,msw:1.1}, s[1]<0?"high-groove":"low-groove");
  });
  drawBrackets(g, ax, bBrackets, 1);
  drawBorder(g, f);
})();

/* Panel C / D shared styles */
const preBoxStyle = {whisker:"#555",line:"#555",fill:"#fd9dfc",median:"#333",sw:.7,msw:1.1};
const postBoxStyle = {whisker:"#555",line:"#444",fill:"#4a2c7c",median:"#222",sw:.7,msw:1.1};
const prePointStyle = {r:1.35,fill:"#f8b6f4",op:.75,stroke:"#7a5a9c",sw:.6};
const postPointStyle = {r:1.4,fill:"#3a2268",op:.75,stroke:"#3a2268",sw:.3};

/* Panel C */
(function(){
  const f = {x0:56.7,x1:272.7,y0:321.7,y1:590.7,cat1:115.7,step:98,yHalf:348.7,ppu:121};
  const ax = makeAxes(f);
  const g = mk(root, "g", {}, "panel-c");
  drawFrame(g, f, ax, yesNoCategories, true);
  drawBox(g, ax, cNoPreBox, 1-.19, .17, preBoxStyle, "no-pre");
  drawBox(g, ax, cNoPostBox, 1+.19, .17, postBoxStyle, "no-post");
  drawBox(g, ax, cYesPreBox, 2-.19, .17, preBoxStyle, "yes-pre");
  drawBox(g, ax, cYesPostBox, 2+.19, .17, postBoxStyle, "yes-post");
  drawPoints(g, ax, cNoPrePoints, 1, prePointStyle, "point-no-pre");
  drawPoints(g, ax, cNoPostPoints, 1, postPointStyle, "point-no-post");
  drawPoints(g, ax, cYesPrePoints, 2, prePointStyle, "point-yes-pre");
  drawPoints(g, ax, cYesPostPoints, 2, postPointStyle, "point-yes-post");
  drawBrackets(g, ax, cBrackets, -1);
  drawBorder(g, f);
})();

/* Panel D */
(function(){
  const common = {y0:335,y1:590.7,step:48.4,yHalf:360.3,ppu:115.2};
  const f1 = Object.assign({x0:455.7,x1:561.7,cat1:484.3}, common);
  const f2 = Object.assign({x0:565.3,x1:671.3,cat1:594}, common);
  [[f1,"High Groove",true,[[dHighNoPreBox,dHighNoPrePoints,1,-1],[dHighNoPostBox,dHighNoPostPoints,1,1],[dHighYesPreBox,dHighYesPrePoints,2,-1],[dHighYesPostBox,dHighYesPostPoints,2,1]],dHighBrackets],
   [f2,"Low Groove",false,[[dLowNoPreBox,dLowNoPrePoints,1,-1],[dLowNoPostBox,dLowNoPostPoints,1,1],[dLowYesPreBox,dLowYesPrePoints,2,-1],[dLowYesPostBox,dLowYesPostPoints,2,1]],dLowBrackets]
  ].forEach(cfg => {
    const f = cfg[0], ax = makeAxes(f);
    const g = mk(root, "g", {}, "panel-d-facet");
    drawFrame(g, f, ax, yesNoCategories, cfg[2]);
    cfg[3].forEach(s => {
      drawBox(g, ax, s[0], s[2]+s[3]*.19, .17, s[3]<0?preBoxStyle:postBoxStyle, s[3]<0?"pre":"post");
    });
    cfg[3].forEach(s => {
      drawPoints(g, ax, s[1], s[2], s[3]<0?prePointStyle:postPointStyle, s[3]<0?"point-pre":"point-post");
    });
    drawBrackets(g, ax, cfg[4], -1);
    drawBorder(g, f);
    mk(g, "rect", {x:f.x0,y:322,width:f.x1-f.x0,height:13,fill:"#d0d0d0",stroke:"#b0b0b0","stroke-width":1}, "facet-strip");
    mk(g, "text", {x:(f.x0+f.x1)/2,y:331.7,"text-anchor":"middle",class:"tick",style:"fill:#333"}, "facet-strip-label", cfg[1]);
  });
})();
</script>
</body>
</html>
